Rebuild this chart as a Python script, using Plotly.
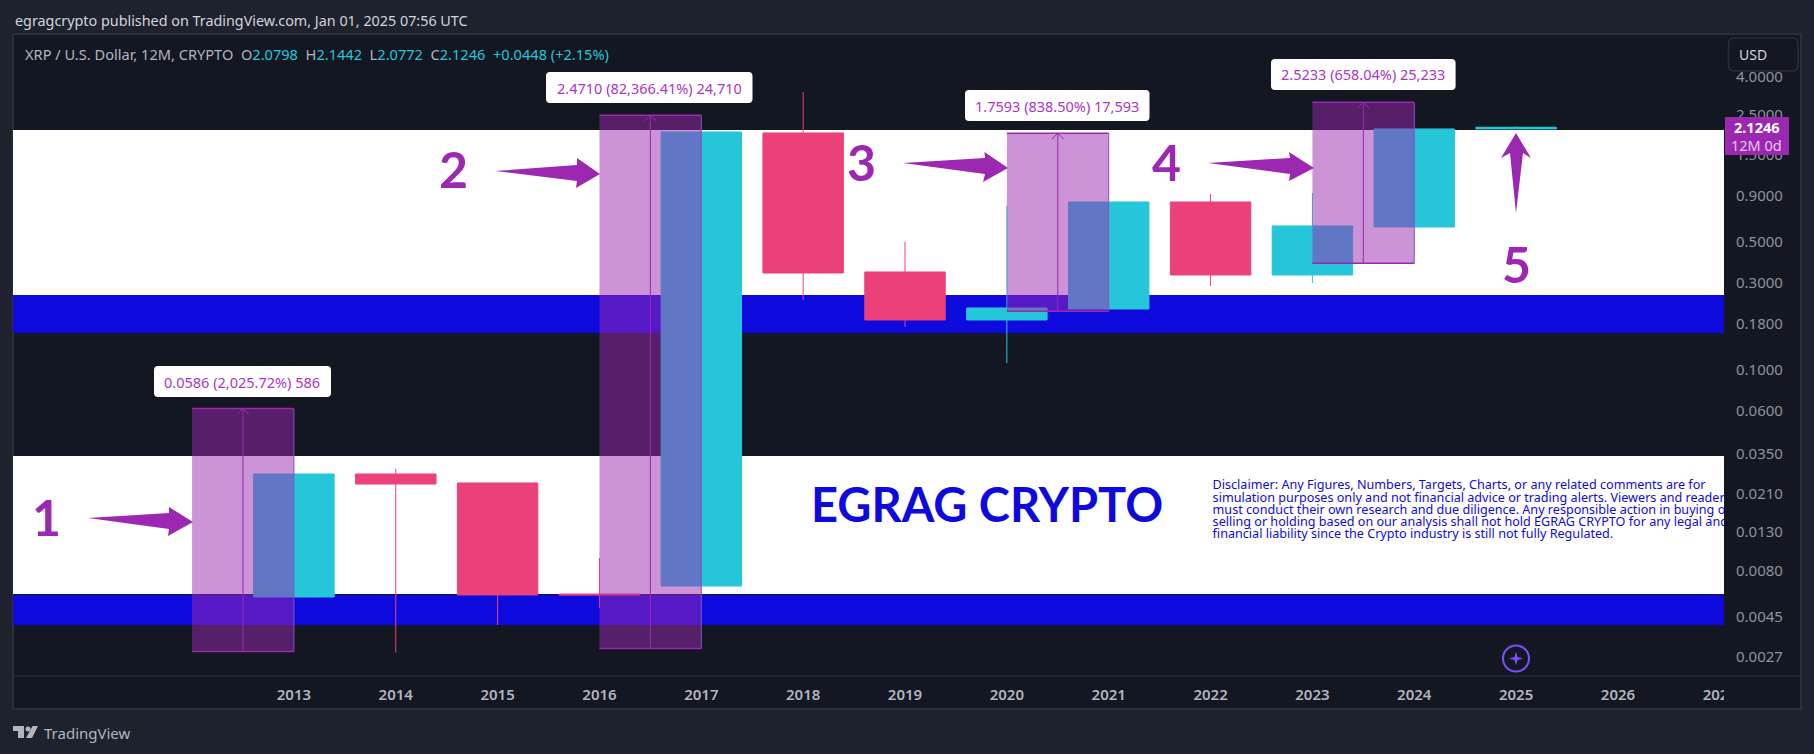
import math
import plotly.graph_objects as go

# ---------- data ----------
years = [2013, 2014, 2015, 2016, 2017, 2018, 2019, 2020, 2021, 2022, 2023, 2024, 2025]
opens = [0.00574, 0.0270, 0.02412, 0.00596, 0.00659, 1.977, 0.3435, 0.1877, 0.2156, 0.8292, 0.3308, 0.6053, 2.0798]
highs = [0.0270, 0.02877, 0.02412, 0.00938, 2.002, 3.311, 0.501, 0.7885, 0.8292, 0.917, 0.9286, 2.079, 2.1442]
lows = [0.00574, 0.002848, 0.00404, 0.00500, 0.00659, 0.2415, 0.1719, 0.1092, 0.2156, 0.288, 0.2990, 0.6053, 2.0772]
closes = [0.0270, 0.0238, 0.00589, 0.00589, 2.002, 0.3392, 0.1877, 0.2183, 0.8292, 0.3308, 0.6131, 2.079, 2.1246]

price_ticks = [4.0, 2.5, 1.5, 0.9, 0.5, 0.3, 0.18, 0.1, 0.06, 0.035, 0.021, 0.013, 0.008, 0.0045, 0.0027]
price_tick_text = ["4.0000", "2.5000", "1.5000", "0.9000", "0.5000", "0.3000", "0.1800", "0.1000",
                   "0.0600", "0.0350", "0.0210", "0.0130", "0.0080", "0.0045", "0.0027"]
time_ticks = list(range(2013, 2028))

span_from = [2012, 2016, 2020, 2023]
span_to = [2013, 2017, 2021, 2024]
span_low = [0.002893, 0.003, 0.2098, 0.3835]
span_high = [0.0615, 2.474, 1.969, 2.9068]
span_text = ["0.0586 (2,025.72%) 586", "2.4710 (82,366.41%) 24,710",
             "1.7593 (838.50%) 17,593", "2.5233 (658.04%) 25,233"]

white_bands = [(0.2571, 2.053), (0.00596, 0.03387)]
blue_bands = [(0.1594, 0.2571), (0.00404, 0.00589)]

disclaimer = [
    "Disclaimer: Any Figures, Numbers, Targets, Charts, or any related comments are for",
    "simulation purposes only and not financial advice or trading alerts. Viewers and readers",
    "must conduct their own research and due diligence. Any responsible action in buying or",
    "selling or holding based on our analysis shall not hold EGRAG CRYPTO for any legal and",
    "financial liability since the Crypto industry is still not fully Regulated.",
]
disclaimer_prices = [0.02322, 0.01984, 0.01695, 0.01457, 0.01253]

# ---------- page geometry ----------
W, H = 1814, 754
L, R, T, B = 13, 1724, 34, 676
XR = [2010.242, 2027.041]
YR = [-2.673, 0.837]
FONT = "Noto Sans"
DISPLAY_FONT = "Lato"

BG = "#1e222d"
PANE = "#131722"
EDGE = "#2a2e39"
PURPLE = "#9c27b0"
BLUE = "#0e0add"
CYAN = "#26c6da"
PINK = "#ec407a"


def px(x):
    return (x - L) / (R - L)


def py(y):
    return (B - y) / (B - T)


def yr2x(x):
    return L + (x - XR[0]) / (XR[1] - XR[0]) * (R - L)


def v2y(v):
    return B - (math.log10(v) - YR[0]) / (YR[1] - YR[0]) * (B - T)


def poly(points):
    return "M" + " L".join(f"{px(a):.5f},{py(b):.5f}" for a, b in points) + " Z"


def rounded(x0, y0, x1, y1, r):
    def p(a, b):
        return f"{px(a):.5f},{py(b):.5f}"
    return (f"M{p(x0+r,y0)} L{p(x1-r,y0)} Q{p(x1,y0)} {p(x1,y0+r)} L{p(x1,y1-r)} Q{p(x1,y1)} {p(x1-r,y1)} "
            f"L{p(x0+r,y1)} Q{p(x0,y1)} {p(x0,y1-r)} L{p(x0,y0+r)} Q{p(x0,y0)} {p(x0+r,y0)} Z")


shapes = []


def paper_rect(x0, y0, x1, y1, color, layer="above"):
    shapes.append(dict(type="rect", xref="paper", yref="paper", x0=px(x0), x1=px(x1), y0=py(y0), y1=py(y1),
                       fillcolor=color, line_width=0, layer=layer))


def paper_path(path, color, layer="above", line=None, lw=0):
    shapes.append(dict(type="path", xref="paper", yref="paper", path=path, fillcolor=color,
                       line=dict(color=line or color, width=lw), layer=layer))


# window frame and pane
paper_rect(12, 33, 1802, 710, EDGE, "below")
paper_rect(14, 35, 1800, 708, PANE, "below")

# bands behind the candles
for lo, hi in white_bands:
    shapes.append(dict(type="rect", xref="paper", yref="y", x0=0, x1=1, y0=lo, y1=hi,
                       fillcolor="#ffffff", line_width=0, layer="below"))
for lo, hi in blue_bands:
    shapes.append(dict(type="rect", xref="paper", yref="y", x0=0, x1=1, y0=lo, y1=hi,
                       fillcolor=BLUE, line_width=0, layer="below"))

# measured ranges above the candles
for a, b, lo, hi in zip(span_from, span_to, span_low, span_high):
    mid = (a + b) / 2
    shapes.append(dict(type="rect", xref="x", yref="y", x0=a, x1=b, y0=lo, y1=hi,
                       fillcolor="rgba(156,39,176,0.5)", line_width=0, layer="above"))
    shapes.append(dict(type="line", xref="x", yref="y", x0=b, x1=b, y0=lo, y1=hi,
                       line=dict(color="#7e57c2", width=1), layer="above"))
    for v in (lo, hi):
        shapes.append(dict(type="line", xref="x", yref="y", x0=a, x1=b, y0=v, y1=v,
                           line=dict(color=PURPLE, width=1.5), layer="above"))
    shapes.append(dict(type="line", xref="x", yref="y", x0=mid, x1=mid, y0=lo, y1=hi,
                       line=dict(color=PURPLE, width=1), layer="above"))
    xm, yt = yr2x(mid), v2y(hi)
    shapes.append(dict(type="path", xref="paper", yref="paper",
                       path=f"M{px(xm-6):.5f},{py(yt+6):.5f} L{px(xm):.5f},{py(yt):.5f} L{px(xm+6):.5f},{py(yt+6):.5f}",
                       line=dict(color=PURPLE, width=1), layer="above"))

# white tags of the measures
tag_boxes = [(154, 366, 331, 397), (546, 72, 752.5, 103), (965, 90, 1149.5, 121), (1271, 59, 1455.6, 90)]
for box in tag_boxes:
    paper_path(rounded(*box, 4), "#ffffff")

# big arrows
arrows = [
    [(88, 518), (169, 513), (169, 507), (193, 522), (168, 536), (169, 529)],
    [(495, 171), (577, 165), (577, 158), (600, 174), (576, 188), (577, 181)],
    [(903, 163), (985, 158), (984.5, 152), (1008, 168), (983, 182), (985, 174)],
    [(1208, 163), (1290, 158), (1289, 152), (1314, 168), (1289, 181), (1290, 174)],
    [(1516, 213), (1510, 153), (1501, 158), (1516, 133), (1531, 158), (1523, 153)],
]
for a in arrows:
    paper_path(poly(a), PURPLE)

# price-axis pieces
paper_rect(1724, 677, 1800, 708, PANE)           # hides the overflow of the last time label
paper_rect(13, 675.5, 1800, 676.5, EDGE)
paper_path(rounded(1728.5, 38, 1798, 71, 6), PANE, line=EDGE, lw=1.5)
paper_rect(1725, 117, 1789, 155, PURPLE)

# star badge
shapes.append(dict(type="circle", xref="paper", yref="paper", x0=px(1503), x1=px(1529), y0=py(645.5), y1=py(671.5),
                   line=dict(color="#7e4dff", width=2), layer="above"))
paper_path(poly([(1516, 651.5), (1517.5, 657), (1523, 658.5), (1517.5, 660), (1516, 665.5),
                 (1514.5, 660), (1509, 658.5), (1514.5, 657)]), "#7e4dff")

# TradingView logo
logo = "#b2b5be"
paper_path(poly([(13, 726), (24, 726), (24, 738), (18, 738), (18, 731), (13, 731)]), logo)
shapes.append(dict(type="circle", xref="paper", yref="paper", x0=px(25.5), x1=px(30.5), y0=py(726.5), y1=py(731.5),
                   fillcolor=logo, line_width=0, layer="above"))
paper_path(poly([(32.5, 726), (38, 726), (32, 738), (26, 738)]), logo)


# ---------- text ----------
def note(x, y, text, size, color, anchor="center", bold=False, family=FONT):
    return dict(xref="paper", yref="paper", x=px(x), y=py(y), text=f"<b>{text}</b>" if bold else text,
                showarrow=False, xanchor=anchor, yanchor="middle",
                font=dict(family=family, size=size, color=color))


c = CYAN
legend = ("XRP / U.S. Dollar, 12M, CRYPTO&nbsp;&nbsp;O"
          f'<span style="color:{c}">2.0798</span>&nbsp;&nbsp;H<span style="color:{c}">2.1442</span>'
          f'&nbsp;&nbsp;L<span style="color:{c}">2.0772</span>&nbsp;&nbsp;C<span style="color:{c}">2.1246</span>'
          f'&nbsp;&nbsp;<span style="color:{c}">+0.0448 (+2.15%)</span>')

annotations = [
    note(12.5, 20, "egragcrypto published on TradingView.com, Jan 01, 2025 07:56 UTC", 14.35, "#d1d4dc", "left"),
    note(23, 54, legend, 14.6, "#b2b5be", "left"),
    note(1753, 54, "USD", 14, "#d1d4dc"),
    note(1757, 127, "2.1246", 14.5, "#ffffff", bold=True),
    note(1757, 145, "12M 0d", 14.5, "#e6c8ec"),
    note(46, 517, "1", 50, PURPLE, bold=True, family=DISPLAY_FONT),
    note(453, 169, "2", 50, PURPLE, bold=True, family=DISPLAY_FONT),
    note(861, 162, "3", 50, PURPLE, bold=True, family=DISPLAY_FONT),
    note(1166, 162, "4", 50, PURPLE, bold=True, family=DISPLAY_FONT),
    note(1516, 264, "5", 50, PURPLE, bold=True, family=DISPLAY_FONT),
    note(987.5, 504, "EGRAG CRYPTO", 47, BLUE, bold=True, family=DISPLAY_FONT),
    note(42, 733, "TradingView", 15, "#b2b5be", "left"),
]
for box, t in zip(tag_boxes, span_text):
    annotations.append(note((box[0] + box[2]) / 2, (box[1] + box[3]) / 2, t, 14.5, "#ab35c4"))

# ---------- figure ----------
fig = go.Figure()
fig.add_trace(go.Candlestick(
    x=years, open=opens, high=highs, low=lows, close=closes,
    increasing=dict(line=dict(color=CYAN, width=1), fillcolor=CYAN),
    decreasing=dict(line=dict(color=PINK, width=1), fillcolor=PINK),
    whiskerwidth=0, showlegend=False, hoverinfo="skip",
))
fig.add_trace(go.Scatter(
    x=[2022.02] * len(disclaimer), y=disclaimer_prices, text=disclaimer, mode="text",
    textposition="middle right", cliponaxis=True, showlegend=False, hoverinfo="skip",
    textfont=dict(family=FONT, size=12.6, color=BLUE),
))

fig.update_layout(
    width=W, height=H, autosize=False,
    margin=dict(l=L, r=W - R, t=T, b=H - B, pad=0),
    paper_bgcolor=BG, plot_bgcolor="rgba(0,0,0,0)",
    boxgap=0.21, boxgroupgap=0,
    showlegend=False,
    shapes=shapes, annotations=annotations,
    xaxis=dict(range=XR, tickmode="array", tickvals=time_ticks, ticktext=[str(t) for t in time_ticks],
               showgrid=False, zeroline=False, showline=False, ticks="", rangeslider=dict(visible=False),
               ticklabelstandoff=8, tickfont=dict(family=FONT, size=15, color="#b2b5be", weight=600)),
    yaxis=dict(type="log", range=YR, side="right", tickmode="array", tickvals=price_ticks, ticktext=price_tick_text,
               showgrid=False, zeroline=False, showline=False, ticks="",
               ticklabelstandoff=11, tickfont=dict(family=FONT, size=15, color="#8f929b")),
)

fig.write_html("out.html", config=dict(displayModeBar=False),
               post_script="document.body.style.margin='0';document.documentElement.style.overflow='hidden';")
